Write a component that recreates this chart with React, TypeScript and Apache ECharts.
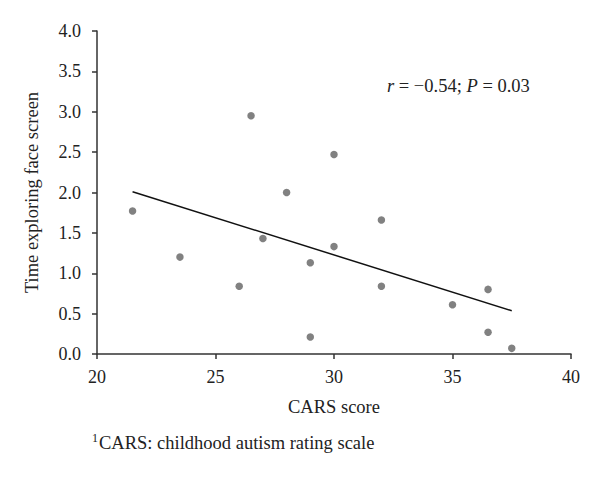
import React, { useEffect, useRef } from "react";
import * as echarts from "echarts";

const carsScores = [21.5, 23.5, 26, 26.5, 27, 28, 29, 29, 30, 30, 32, 32, 35, 36.5, 36.5, 37.5];
const faceTimes = [1.77, 1.2, 0.84, 2.95, 1.43, 2.0, 1.13, 0.21, 2.47, 1.33, 1.66, 0.84, 0.61, 0.8, 0.27, 0.07];
const trendX = [21.5, 37.5];
const trendY = [2.01, 0.536];
const xTicks = [20, 25, 30, 35, 40];
const yTicks = [0, 0.5, 1, 1.5, 2, 2.5, 3, 3.5, 4];

const FONT = "'Liberation Serif', 'DejaVu Serif', serif";
const TXT = "#222";

export default function App() {
  const ref = useRef<HTMLDivElement>(null);
  useEffect(() => {
    if (!ref.current) return;
    const chart = echarts.init(ref.current, null, { renderer: "svg" });
    const axisLine = { show: true, lineStyle: { color: "#333", width: 1.5 } };
    chart.setOption({
      animation: false,
      backgroundColor: "#fff",
      grid: { left: 97, right: 29, top: 31, bottom: 123 },
      xAxis: {
        type: "value",
        min: xTicks[0],
        max: xTicks[xTicks.length - 1],
        interval: 5,
        name: "CARS score",
        nameLocation: "middle",
        nameGap: 43,
        nameTextStyle: { fontFamily: FONT, fontSize: 18.5, color: TXT },
        axisLine,
        axisTick: { show: true, length: 5, lineStyle: { color: "#333", width: 1.5 } },
        axisLabel: { fontFamily: FONT, fontSize: 18, color: TXT, margin: 14 },
        splitLine: { show: false },
      },
      yAxis: {
        type: "value",
        min: yTicks[0],
        max: yTicks[yTicks.length - 1],
        interval: 0.5,
        name: "Time exploring face screen",
        nameLocation: "middle",
        nameGap: 56,
        nameTextStyle: { fontFamily: FONT, fontSize: 18.5, color: TXT },
        axisLine,
        axisTick: { show: true, length: 5, lineStyle: { color: "#333", width: 1.5 } },
        axisLabel: {
          fontFamily: FONT,
          fontSize: 18,
          color: TXT,
          margin: 16,
          formatter: (v: number) => v.toFixed(1),
        },
        splitLine: { show: false },
      },
      series: [
        {
          type: "line",
          data: trendX.map((x, i) => [x, trendY[i]]),
          showSymbol: false,
          symbol: "none",
          lineStyle: { color: "#111", width: 1.5 },
          silent: true,
          z: 2,
        },
        {
          type: "scatter",
          data: carsScores.map((x, i) => [x, faceTimes[i]]),
          symbolSize: 7.5,
          itemStyle: { color: "#626262" },
          z: 3,
        },
      ],
      graphic: [
        {
          type: "text",
          left: 387,
          top: 76,
          style: {
            text: "{i|r} = −0.54; {i|P} = 0.03",
            font: "18.5px " + FONT,
            fill: TXT,
            rich: {
              i: { fontStyle: "italic", fontFamily: FONT, fontSize: 18.5, fill: TXT },
            },
          },
        },
        {
          type: "text",
          left: 92,
          top: 432,
          style: {
            text: "{s|1}CARS: childhood autism rating scale",
            font: "18.5px " + FONT,
            fill: TXT,
            rich: {
              s: { fontFamily: FONT, fontSize: 12, fill: TXT, verticalAlign: "top", padding: [0, 1, 9, 0] },
            },
          },
        },
      ],
    });
    return () => chart.dispose();
  }, []);
  return <div ref={ref} style={{ width: 600, height: 477, margin: -8 }} />;
}
